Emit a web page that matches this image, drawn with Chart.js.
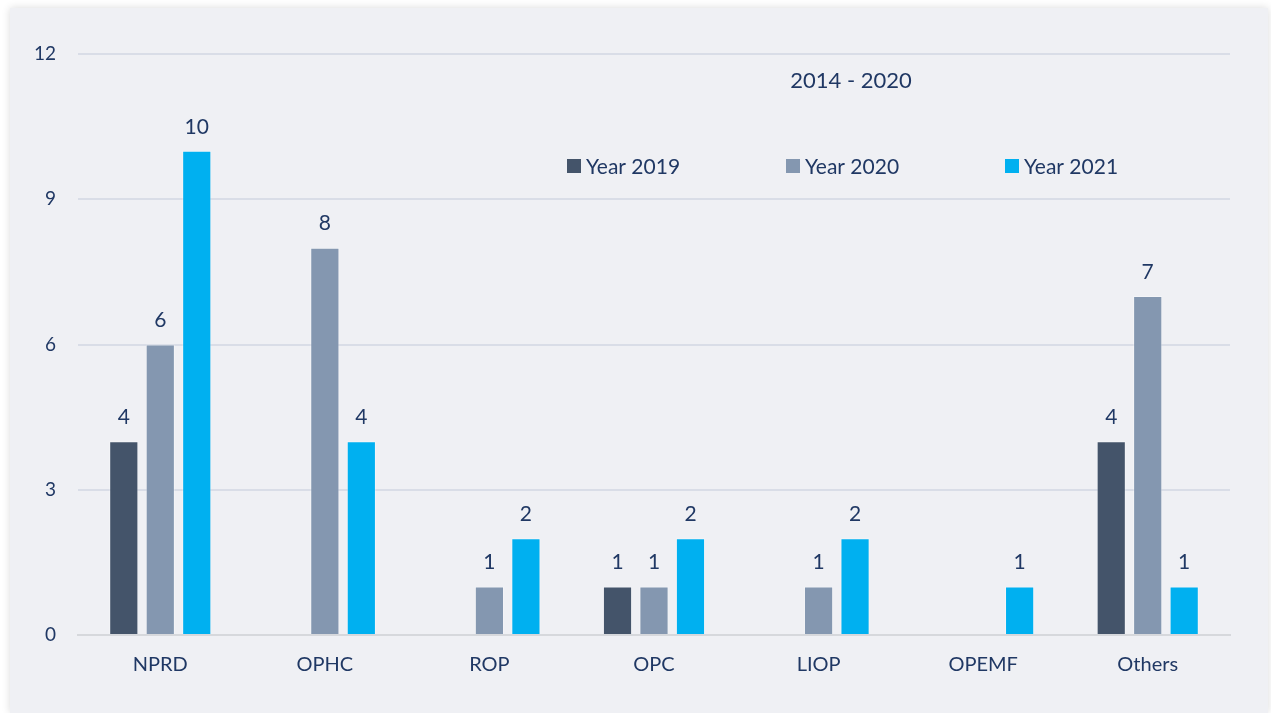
<!DOCTYPE html>
<html>
<head>
<meta charset="utf-8">
<script src="https://cdn.jsdelivr.net/npm/chart.js@4.4.1/dist/chart.umd.min.js"></script>
<style>
  body { margin: 0; background: #ffffff; }
  #panel {
    position: absolute; left: 10px; top: 8px;
    width: 1258px; height: 705px;
    background: #eff0f4;
    box-shadow: 0 0 8px rgba(0, 0, 0, 0.15);
  }
  canvas { display: block; }
</style>
</head>
<body>
<div id="panel"><canvas id="bars" width="1258" height="705"></canvas></div>
<script>
// categories and yearly counts
const categories = ['NPRD', 'OPHC', 'ROP', 'OPC', 'LIOP', 'OPEMF', 'Others'];
const year2019 = [4, null, null, 1, null, null, 4];
const year2020 = [6, 8, 1, 1, 1, null, 7];
const year2021 = [10, 4, 2, 2, 2, 1, 1];
const yTicks = [0, 3, 6, 9, 12];
const chartTitle = '2014 - 2020';

const navy = '#203864';
const fontFamily = 'Lato, "Open Sans", sans-serif';

// value above each bar
const valueLabels = {
  id: 'valueLabels',
  afterDatasetsDraw(chart) {
    const ctx = chart.ctx;
    ctx.save();
    ctx.font = '21px ' + fontFamily;
    ctx.fillStyle = navy;
    ctx.textAlign = 'center';
    ctx.textBaseline = 'middle';
    chart.data.datasets.forEach((ds, i) => {
      chart.getDatasetMeta(i).data.forEach((bar, j) => {
        const v = ds.data[j];
        if (v === null) return;
        ctx.fillText(String(v), bar.x, bar.y - 24);
      });
    });
    ctx.restore();
  }
};

// title and legend sit inside the plot area
const innerLegend = {
  id: 'innerLegend',
  afterDraw(chart) {
    const ctx = chart.ctx;
    ctx.save();
    ctx.fillStyle = navy;
    ctx.font = '22px ' + fontFamily;
    ctx.textAlign = 'center';
    ctx.textBaseline = 'middle';
    ctx.fillText(chartTitle, 841, 73);

    const startX = 557, gap = 219, y = 158;
    ctx.font = '21px ' + fontFamily;
    ctx.textAlign = 'left';
    chart.data.datasets.forEach((ds, i) => {
      const x = startX + i * gap;
      ctx.fillStyle = ds.backgroundColor;
      ctx.fillRect(x, y - 7, 14, 14);
      ctx.fillStyle = navy;
      ctx.fillText(ds.label, x + 19, y + 1);
    });
    ctx.restore();
  }
};

new Chart(document.getElementById('bars'), {
  type: 'bar',
  data: {
    labels: categories,
    datasets: [
      { label: 'Year 2019', data: year2019, backgroundColor: '#44546a' },
      { label: 'Year 2020', data: year2020, backgroundColor: '#8497b0' },
      { label: 'Year 2021', data: year2021, backgroundColor: '#00b0f0' }
    ]
  },
  options: {
    responsive: false,
    animation: false,
    layout: { padding: { top: 46, right: 38, left: 0, bottom: 0 } },
    datasets: {
      bar: {
        barPercentage: 0.8,
        categoryPercentage: 0.665,
        borderWidth: 1,
        borderColor: 'rgba(255,255,255,0.35)'
      }
    },
    plugins: {
      legend: { display: false },
      tooltip: { enabled: false }
    },
    scales: {
      x: {
        grid: { display: false, drawTicks: false },
        border: { color: '#d6d8dc', width: 2 },
        ticks: { color: navy, font: { family: fontFamily, size: 20 }, padding: 18 },
        afterFit(scale) { scale.height = 78; }
      },
      y: {
        min: 0,
        max: 12,
        afterBuildTicks(scale) { scale.ticks = yTicks.map(v => ({ value: v })); },
        grid: { color: '#d9dde7', lineWidth: 2, drawTicks: false },
        border: { display: false },
        ticks: { color: navy, font: { family: fontFamily, size: 19 }, padding: 22 },
        afterFit(scale) { scale.width = 68; }
      }
    }
  },
  plugins: [valueLabels, innerLegend]
});
</script>
</body>
</html>
